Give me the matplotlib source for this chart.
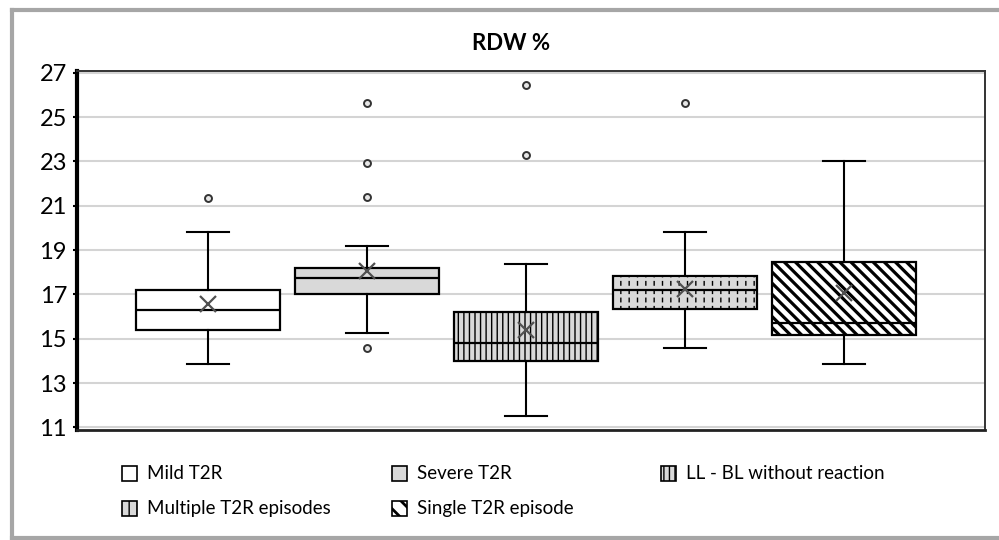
import matplotlib

matplotlib.use("Agg")
import matplotlib.pyplot as plt
from matplotlib.lines import Line2D
from matplotlib.patches import Rectangle

# values
groups = ["Mild T2R", "Severe T2R", "LL - BL without reaction",
          "Multiple T2R episodes", "Single T2R episode"]
q1 = [15.4, 17.0, 14.0, 16.35, 15.15]
medians = [16.3, 17.75, 14.8, 17.2, 15.7]
q3 = [17.2, 18.2, 16.2, 17.85, 18.45]
whisker_lo = [13.85, 15.25, 11.5, 14.6, 13.85]
whisker_hi = [19.8, 19.2, 18.35, 19.8, 23.0]
means = [16.55, 18.05, 15.4, 17.25, 17.05]
outliers = [[21.35], [14.6, 21.4, 22.95, 25.65], [23.3, 26.45], [25.65], []]
y_ticks = [11, 13, 15, 17, 19, 21, 23, 25, 27]

face_colors = ["white", "#d9d9d9", "#d9d9d9", "#d9d9d9", "white"]
hatches = [None, None, "|||", "||", "\\\\\\"]
hatch_widths = [1.0, 1.0, 1.0, 1.0, 2.3]

plt.rcParams["font.family"] = ["Lato", "DejaVu Sans"]
plt.rcParams["hatch.linewidth"] = 1.0

fig = plt.figure(figsize=(9.99, 5.40), dpi=100)
ax = fig.add_axes([0.0768, 0.2037, 0.9092, 0.6648])

stats = []
for i in range(len(groups)):
    stats.append({
        "label": groups[i],
        "q1": q1[i],
        "med": medians[i],
        "q3": q3[i],
        "whislo": whisker_lo[i],
        "whishi": whisker_hi[i],
        "mean": means[i],
        "fliers": outliers[i],
    })

positions = list(range(1, len(groups) + 1))
box_w = 0.906
parts = ax.bxp(
    stats,
    positions=positions,
    widths=box_w,
    capwidths=0.264,
    patch_artist=True,
    showmeans=True,
    meanprops=dict(marker="x", markeredgecolor="#505050", markersize=11,
                   markeredgewidth=1.6),
    flierprops=dict(marker="o", markersize=5, markerfacecolor="#e6e6e6",
                    markeredgecolor="#333333", markeredgewidth=1.4),
    medianprops=dict(color="black", linewidth=1.6),
    whiskerprops=dict(color="black", linewidth=1.5),
    capprops=dict(color="black", linewidth=1.5),
    boxprops=dict(edgecolor="black", linewidth=1.6),
)

for i, box in enumerate(parts["boxes"]):
    box.set_facecolor(face_colors[i])
    if hatches[i]:
        box.set_hatch(hatches[i])
        if hasattr(box, "set_hatch_linewidth"):
            box.set_hatch_linewidth(hatch_widths[i])

# break the vertical hatch of "Multiple" into short dashes
i = 3
gap = Rectangle((positions[i] - box_w / 2 + 0.01, q1[i]), box_w - 0.02, q3[i] - q1[i],
                facecolor="none", edgecolor=face_colors[i], hatch="--", linewidth=0,
                zorder=2.05)
if hasattr(gap, "set_hatch_linewidth"):
    gap.set_hatch_linewidth(2.5)
ax.add_patch(gap)

ax.set_xlim(0.176, 5.886)
ax.set_ylim(10.88, 27.08)
ax.set_yticks(y_ticks)
ax.set_xticks([])
ax.yaxis.grid(True, color="#d4d4d4", linewidth=1.5)
ax.set_axisbelow(True)
ax.tick_params(axis="y", labelsize=17, length=3, width=1.5, pad=4)

ax.spines["left"].set_linewidth(3.0)
ax.spines["left"].set_color("black")
ax.spines["bottom"].set_linewidth(2.0)
ax.spines["bottom"].set_color("#222222")
ax.spines["top"].set_linewidth(1.4)
ax.spines["top"].set_color("#333333")
ax.spines["right"].set_linewidth(1.4)
ax.spines["right"].set_color("#333333")

fig.text(0.512, 0.92, "RDW %", ha="center", va="center", fontsize=16, fontweight="bold")

# legend, laid out in rows of three like the original
sq_w, sq_h = 15 / 999, 15 / 540
col_x = [0.122, 0.392, 0.662]
row_y = [0.124, 0.059]
for i, name in enumerate(groups):
    x0 = col_x[i % 3]
    y0 = row_y[i // 3]
    swatch = Rectangle((x0, y0 - sq_h / 2), sq_w, sq_h, transform=fig.transFigure,
                       facecolor=face_colors[i], edgecolor="black", linewidth=1.2,
                       hatch=hatches[i] if i != 4 else "\\\\")
    if hasattr(swatch, "set_hatch_linewidth"):
        swatch.set_hatch_linewidth(min(hatch_widths[i], 2.0))
    fig.add_artist(swatch)
    fig.text(x0 + 0.025, y0, name, ha="left", va="center", fontsize=13.5)

# grey frame around the picture (left, top, bottom)
frame_kw = dict(transform=fig.transFigure, color="#a6a6a6", linewidth=3.0)
fig.add_artist(Line2D([0.0117, 0.0117], [1 - 10 / 540, 1 - 538 / 540], **frame_kw))
fig.add_artist(Line2D([0.0117, 1.0], [1 - 10 / 540, 1 - 10 / 540], **frame_kw))
fig.add_artist(Line2D([0.0117, 1.0], [1 - 538 / 540, 1 - 538 / 540], **frame_kw))

fig.savefig("out.png", dpi=100)
